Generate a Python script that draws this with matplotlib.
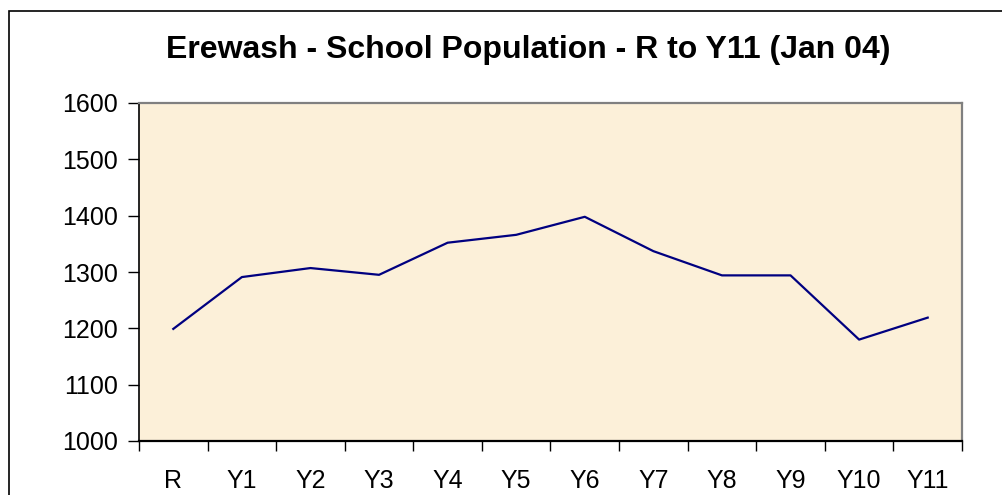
import matplotlib
matplotlib.use('Agg')
import matplotlib.pyplot as plt
from matplotlib.patches import Rectangle
from matplotlib.ticker import FixedLocator, NullFormatter

#  Chart data
year_groups = ['R', 'Y1', 'Y2', 'Y3', 'Y4', 'Y5', 'Y6', 'Y7', 'Y8', 'Y9',
               'Y10', 'Y11']
pupils = [1199, 1291, 1307, 1295, 1352, 1366, 1398, 1337, 1294, 1294,
          1180, 1219]
y_ticks = [1000, 1100, 1200, 1300, 1400, 1500, 1600]
title = 'Erewash - School Population - R to Y11 (Jan 04)'

plt.rc('font', family=['Liberation Sans', 'DejaVu Sans'], size=18)

fig = plt.figure(figsize=(10.03, 4.95), dpi=100)
fig.patch.set_facecolor('white')

#  Outer chart frame (runs off the right/bottom edge like the original)
frame = Rectangle((9 / 1003, -0.05), 1.2, 1.05 - 11 / 495,
                  transform=fig.transFigure, fill=False,
                  edgecolor='black', linewidth=1.2)
fig.patches.append(frame)

ax = fig.add_axes([139 / 1003, 1 - 441 / 495, (962 - 139) / 1003,
                   (441 - 103) / 495])
ax.set_facecolor('#FCF0D9')

x = list(range(len(year_groups)))
ax.plot(x, pupils, color='#000080', linewidth=1.6)

ax.set_xlim(-0.5, len(year_groups) - 0.5)
ax.set_ylim(1000, 1600)
ax.set_yticks(y_ticks)

ax.set_xticks(x)
ax.set_xticklabels(year_groups)
ax.xaxis.set_minor_locator(FixedLocator([i - 0.5 for i in
                                         range(len(year_groups) + 1)]))
ax.xaxis.set_minor_formatter(NullFormatter())
ax.tick_params(axis='x', which='major', length=0, pad=20)
ax.tick_params(axis='x', which='minor', length=7, width=1, direction='out')
ax.tick_params(axis='y', length=8, width=1, direction='out', pad=7)

for side in ['left', 'bottom']:
    ax.spines[side].set_color('black')
ax.spines['left'].set_linewidth(1.2)
ax.spines['bottom'].set_linewidth(1.6)
for side in ['top', 'right']:
    ax.spines[side].set_color('#808080')
    ax.spines[side].set_linewidth(1.6)

fig.text(0.527, 1 - 50 / 495, title, ha='center', va='center',
         fontsize=23, fontweight='bold')

plt.savefig('out.png', dpi=100)
plt.close()
